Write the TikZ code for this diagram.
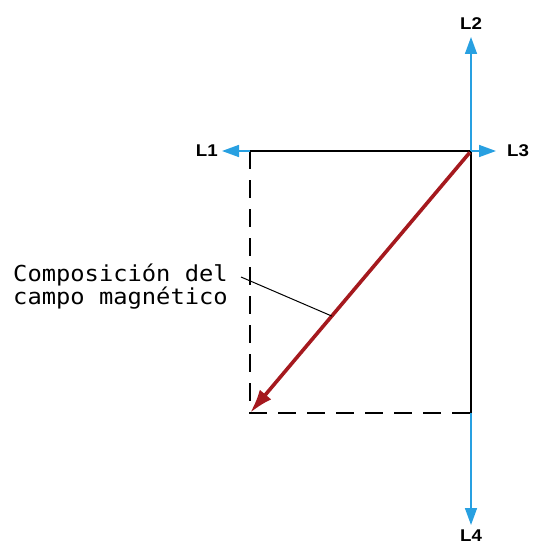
\documentclass[tikz,border=0pt]{standalone}
\usepackage{fontspec}
\usepackage{tikz}
\usetikzlibrary{
	arrows.meta,
	calc,
	positioning
}
\newfontfamily\campofont[FakeStretch=1.08]{DejaVu Sans Mono}
\newfontfamily\lfont[FakeStretch=1.1]{Liberation Sans}
\definecolor{LineBlue}{RGB}{40,160,225}
\definecolor{DarkRed}{RGB}{165,25,30}

\begin{document}
\begin{tikzpicture}[x=1pt, y=-1pt,
		linelabel/.style={font=\lfont\bfseries\fontsize{17}{17}\selectfont, inner sep=0pt},
		fieldarrow/.style={line width=1.6pt, LineBlue, -{Triangle[length=17pt, width=12pt]}},
		side/.style={line width=1.6pt, black},
		sidedash/.style={line width=1.6pt, black, dash pattern=on 18pt off 11pt}]
		\useasboundingbox (0,0) rectangle (536,548);
		\coordinate (TL) at (250,151);
		\coordinate (TR) at (471,151);
		\coordinate (BR) at (471,413);
		\coordinate (BL) at (250,413);
		\coordinate (T1) at (222,151);
		\coordinate (T2) at (471,37);
		\coordinate (T3) at (496,151);
		\coordinate (T4) at (471,525);
		\draw[side] (TL)--(TR)--(BR);
		\draw[sidedash] (TL)--(BL)--(BR);
		\draw[fieldarrow] (TL)--(T1);
		\draw[fieldarrow] (TR)--(T2);
		\draw[fieldarrow] (TR)--(T3);
		\draw[fieldarrow] (BR)--(T4);
		\draw[line width=3.6pt, DarkRed, -{Latex[length=24pt, width=15pt]}, shorten <=2pt] (TR)--(BL);
		\node[linelabel, left=4pt of T1] (L1) {L1};
		\node[linelabel] (L2) at (471,24) {L2};
		\node[linelabel, right=11pt of T3] (L3) {L3};
		\node[linelabel] (L4) at (471,536) {L4};
		\node[font=\campofont\fontsize{22}{23}\selectfont, align=left, anchor=north west, inner sep=0pt] (comp) at (13,264) {Composición del\\campo magnético};
		\coordinate (lead) at (241,277);
		\path (TR)--(BL) coordinate[pos=0.63] (hit);
		\draw[line width=1pt] (lead)--(hit);
	\end{tikzpicture}
\end{document}
